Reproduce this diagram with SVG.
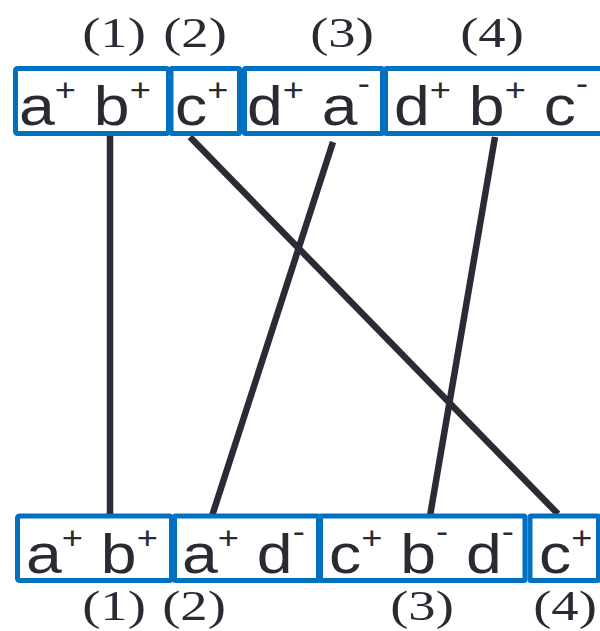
<svg xmlns="http://www.w3.org/2000/svg" width="600" height="631" viewBox="0 0 600 631">
<style>
.box{fill:#ffffff;stroke:#0070c0;stroke-width:5}
.t{font-family:"Liberation Sans",Arial,sans-serif;font-size:55px;fill:#2a2a33}
.sp{font-size:31px}
.lbl{font-family:"Liberation Serif","Times New Roman",serif;font-size:43px;fill:#2a2a33;text-anchor:middle}
.ln{stroke:#2b2a35;stroke-width:6.5;fill:none}
</style>
<rect width="600" height="631" fill="#ffffff"/>
<g id="top-labels">
<text class="lbl" transform="translate(114,47) scale(1.27,1)">(1)</text>
<text class="lbl" transform="translate(195,47) scale(1.27,1)">(2)</text>
<text class="lbl" transform="translate(342,47) scale(1.27,1)">(3)</text>
<text class="lbl" transform="translate(492,47) scale(1.27,1)">(4)</text>
</g>
<g id="connectors">
<line class="ln" x1="110" y1="136" x2="110" y2="516"/>
<line class="ln" x1="190" y1="137" x2="558" y2="514"/>
<line class="ln" x1="333" y1="142" x2="212" y2="516"/>
<line class="ln" x1="495" y1="137" x2="430" y2="516"/>
</g>
<g id="top1"><rect class="box" x="15.5" y="68.5" width="153" height="65" rx="2"/>
<text class="t" transform="translate(19,125) scale(1.17,1)">a<tspan class="sp" dy="-24">+</tspan><tspan dy="24"> b</tspan><tspan class="sp" dy="-24">+</tspan></text></g>
<g id="top2"><rect class="box" x="171" y="68.5" width="68.5" height="65" rx="1"/>
<text class="t" transform="translate(175,125) scale(1.17,1)">c<tspan class="sp" dy="-24">+</tspan></text></g>
<g id="top3"><rect class="box" x="244.5" y="68.5" width="138" height="65" rx="1"/>
<text class="t" transform="translate(247,125) scale(1.17,1)">d<tspan class="sp" dy="-24">+</tspan><tspan dy="24"> a</tspan><tspan class="sp" dy="-31">-</tspan></text></g>
<g id="top4"><rect class="box" x="385.5" y="68.5" width="230" height="65" rx="1"/>
<text class="t" transform="translate(394,125) scale(1.17,1)">d<tspan class="sp" dy="-24">+</tspan><tspan dy="24"> b</tspan><tspan class="sp" dy="-24">+</tspan><tspan dy="24"> c</tspan><tspan class="sp" dy="-31">-</tspan></text></g>
<g id="bot1"><rect class="box" x="17.5" y="516" width="154" height="64.5" rx="2"/>
<text class="t" transform="translate(26,573) scale(1.17,1)">a<tspan class="sp" dy="-24">+</tspan><tspan dy="24"> b</tspan><tspan class="sp" dy="-24">+</tspan></text></g>
<g id="bot2"><rect class="box" x="174.5" y="516" width="144" height="64.5" rx="1"/>
<text class="t" transform="translate(182,573) scale(1.17,1)">a<tspan class="sp" dy="-24">+</tspan><tspan dy="24"> d</tspan><tspan class="sp" dy="-31">-</tspan></text></g>
<g id="bot3"><rect class="box" x="320.5" y="516" width="204.5" height="64.5" rx="1"/>
<text class="t" transform="translate(329,573) scale(1.17,1)">c<tspan class="sp" dy="-24">+</tspan><tspan dy="24"> b</tspan><tspan class="sp" dy="-31">-</tspan><tspan dy="31">  d</tspan><tspan class="sp" dy="-31">-</tspan></text></g>
<g id="bot4"><rect class="box" x="530" y="516" width="68.5" height="64.5" rx="1"/>
<text class="t" transform="translate(539,573) scale(1.17,1)">c<tspan class="sp" dy="-24">+</tspan></text></g>
<g id="bottom-labels">
<text class="lbl" transform="translate(114,620) scale(1.27,1)">(1)</text>
<text class="lbl" transform="translate(194,620) scale(1.27,1)">(2)</text>
<text class="lbl" transform="translate(422,620) scale(1.27,1)">(3)</text>
<text class="lbl" transform="translate(565,620) scale(1.27,1)">(4)</text>
</g>
</svg>
